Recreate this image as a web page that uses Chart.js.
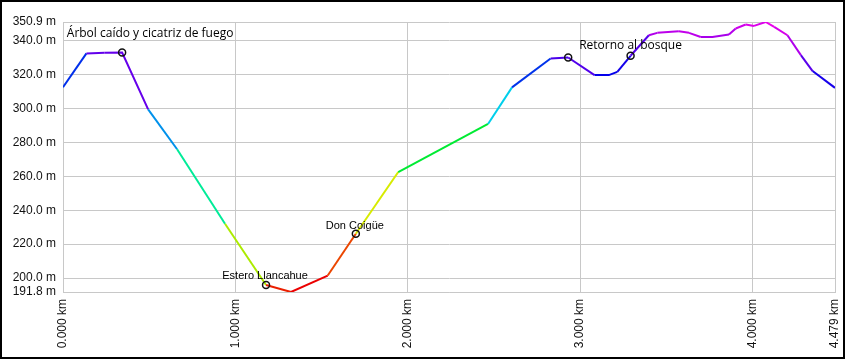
<!DOCTYPE html>
<html>
<head>
<meta charset="utf-8">
<script src="https://cdn.jsdelivr.net/npm/chart.js@4.4.0/dist/chart.umd.min.js"></script>
<style>
  body { margin: 0; background: #fff; }
  #wrap { width: 845px; height: 359px; }
</style>
</head>
<body>
<div id="wrap"><canvas id="profile" width="845" height="359"></canvas></div>
<script>
// elevation profile (km, m)
var distKm = [0.000, 0.136, 0.242, 0.343, 0.494, 0.662, 0.940, 1.178, 1.323, 1.536, 1.699, 1.945,
              2.466, 2.605, 2.829, 2.931, 3.084, 3.167, 3.216, 3.293, 3.399, 3.448, 3.573, 3.632,
              3.700, 3.768, 3.864, 3.903, 3.961, 4.009, 4.077, 4.126, 4.203, 4.281, 4.349, 4.479];
var elevM = [312.5, 332.4, 332.8, 332.9, 299.4, 275.9, 232.0, 195.9, 191.8, 201.5, 226.1, 262.5,
             290.8, 312.4, 329.4, 330.0, 319.6, 319.6, 321.5, 331.0, 343.1, 344.5, 345.5, 344.5,
             342.1, 342.1, 343.5, 347.1, 349.4, 348.6, 350.9, 348.0, 343.1, 331.4, 322.0, 312.1];

// waypoints
var markerKm = [0.343, 1.178, 1.699, 2.931, 3.293];
var markerElev = [332.9, 195.9, 226.1, 330.0, 331.0];
var markerNames = ["Árbol caído y cicatriz de fuego", "Estero Llancahue", "Don Coigüe", "", "Retorno al bosque"];

var yTicks = [191.8, 200, 220, 240, 260, 280, 300, 320, 340, 350.9];
var xTicks = [0, 1, 2, 3, 4, 4.479];

var elevMin = 191.8, elevMax = 350.9;

function elevColor(e) {
    var h = 300 * (e - elevMin) / (elevMax - elevMin);
    if (h < 0) h = 0;
    if (h > 300) h = 300;
    return "hsl(" + h.toFixed(0) + ", 100%, 46%)";
}

var profilePts = distKm.map(function(d, i) { return {x: d, y: elevM[i]}; });
var markerPts = markerKm.map(function(d, i) { return {x: d, y: markerElev[i]}; });

// label offsets from marker (px), font
var labelStyle = [
    {dx: 28, dy: -19, font: "12px 'Open Sans'"},
    {dx: -1, dy: -9, font: "11px 'Liberation Sans', Arial"},
    {dx: -1, dy: -8, font: "11px 'Liberation Sans', Arial"},
    null,
    {dx: 0, dy: -10, font: "12px 'Open Sans'"}
];

var labelsPlugin = {
    id: "labels",
    afterDatasetsDraw: function(chart) {
        var ctx = chart.ctx;
        var xs = chart.scales.x, ys = chart.scales.y;
        ctx.save();
        ctx.fillStyle = "#000";
        ctx.textAlign = "center";
        ctx.textBaseline = "middle";
        markerNames.forEach(function(name, i) {
            if (!name) return;
            var st = labelStyle[i];
            ctx.font = st.font;
            var px = xs.getPixelForValue(markerKm[i]) + st.dx;
            var py = ys.getPixelForValue(markerElev[i]) + st.dy;
            ctx.fillText(name, px, py);
        });
        ctx.restore();
    },
    afterDraw: function(chart) {
        var ctx = chart.ctx;
        ctx.save();
        ctx.strokeStyle = "#000";
        ctx.lineWidth = 2;
        ctx.strokeRect(1, 1, chart.width - 2, chart.height - 2);
        ctx.restore();
    }
};

new Chart(document.getElementById("profile"), {
    type: "line",
    data: {
        datasets: [{
            data: profilePts,
            borderWidth: 2,
            pointRadius: 0,
            tension: 0,
            segment: {
                borderColor: function(c) { return elevColor(c.p0.parsed.y); }
            },
            order: 2
        }, {
            type: "scatter",
            data: markerPts,
            pointRadius: 3.5,
            pointBorderWidth: 1.5,
            pointBorderColor: "#111",
            pointBackgroundColor: "rgba(0,0,0,0)",
            showLine: false,
            order: 1
        }]
    },
    options: {
        responsive: false,
        animation: false,
        layout: { padding: { top: 22, right: 2, left: 0, bottom: 0 } },
        plugins: { legend: { display: false }, tooltip: { enabled: false } },
        scales: {
            x: {
                type: "linear",
                min: 0,
                max: 4.479,
                afterBuildTicks: function(s) { s.ticks = xTicks.map(function(v) { return {value: v}; }); },
                afterFit: function(s) { s.height = 67; s.paddingRight = 10; },
                grid: { color: "#c8c8c8", drawTicks: false },
                border: { color: "#c8c8c8" },
                ticks: {
                    autoSkip: false,
                    minRotation: 90,
                    maxRotation: 90,
                    padding: 7,
                    color: "#111",
                    font: { family: "'Liberation Sans', Arial", size: 12 },
                    callback: function(v) { return Number(v).toFixed(3) + " km"; }
                }
            },
            y: {
                type: "linear",
                min: elevMin,
                max: elevMax,
                afterBuildTicks: function(s) { s.ticks = yTicks.map(function(v) { return {value: v}; }); },
                afterFit: function(s) { s.width = 63; },
                grid: { color: "#c8c8c8", drawTicks: false },
                border: { color: "#c8c8c8" },
                ticks: {
                    autoSkip: false,
                    padding: 7,
                    color: "#111",
                    font: { family: "'Liberation Sans', Arial", size: 12 },
                    callback: function(v) { return Number(v).toFixed(1) + " m"; }
                }
            }
        }
    },
    plugins: [labelsPlugin]
});
</script>
</body>
</html>
